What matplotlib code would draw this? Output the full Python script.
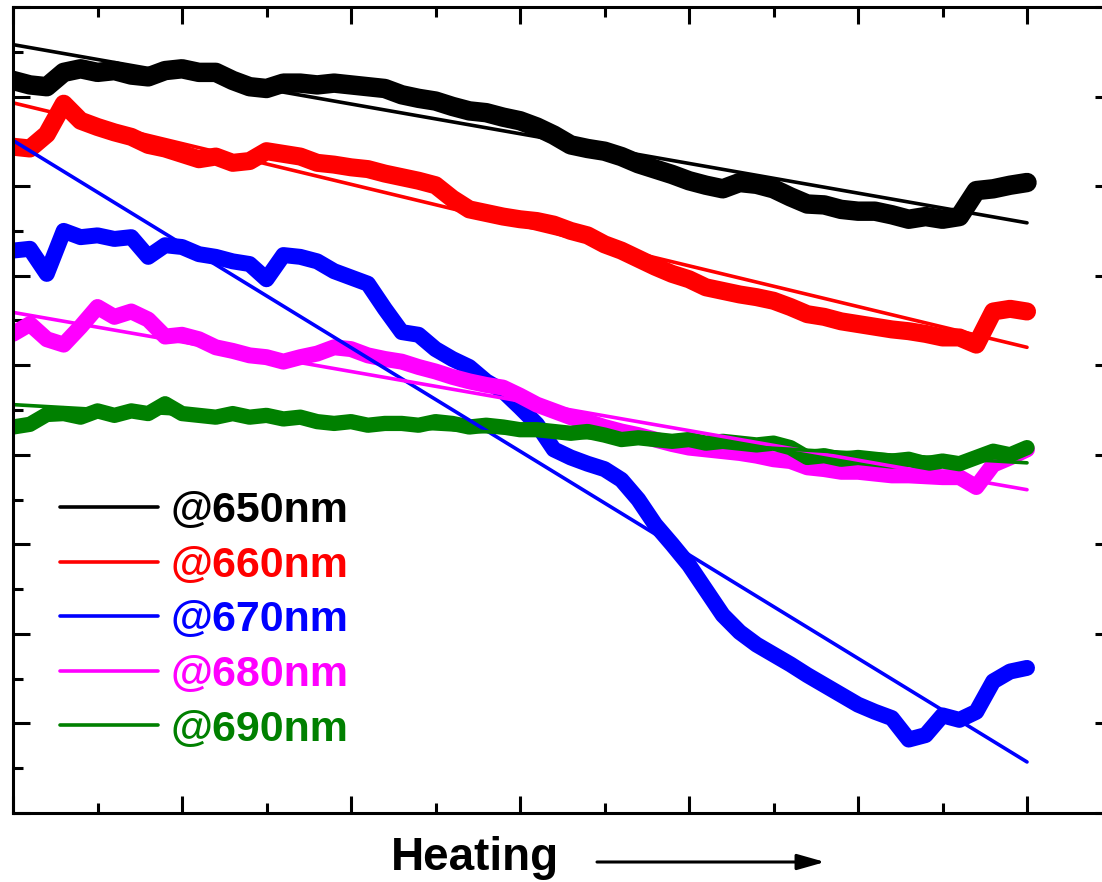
import numpy as np
import matplotlib
matplotlib.use('Agg')
import matplotlib.pyplot as plt
from matplotlib.ticker import MultipleLocator

plt.rcParams['font.family'] = ['Liberation Sans', 'DejaVu Sans']

# heating progress (arb. units), one reading every 0.1
heating = np.arange(61) / 10.0

# absorbance traces (arb. units) at each wavelength
abs_650 = [8.18, 8.13, 8.11, 8.27, 8.31, 8.27, 8.29, 8.24, 8.22, 8.29,
           8.31, 8.27, 8.27, 8.18, 8.11, 8.09, 8.15, 8.15, 8.13, 8.15,
           8.13, 8.11, 8.09, 8.02, 7.98, 7.95, 7.89, 7.84, 7.82, 7.77,
           7.73, 7.66, 7.57, 7.46, 7.42, 7.39, 7.33, 7.25, 7.19, 7.13,
           7.06, 7.01, 6.97, 7.04, 7.02, 6.97, 6.88, 6.80, 6.79, 6.74,
           6.72, 6.72, 6.68, 6.63, 6.66, 6.63, 6.66, 6.95, 6.97, 7.01, 7.04]
abs_660 = [7.44, 7.42, 7.58, 7.92, 7.73, 7.66, 7.60, 7.55, 7.46, 7.42,
           7.36, 7.30, 7.33, 7.26, 7.28, 7.39, 7.36, 7.33, 7.26, 7.24,
           7.21, 7.19, 7.14, 7.10, 7.06, 7.01, 6.86, 6.74, 6.70, 6.66,
           6.63, 6.61, 6.57, 6.50, 6.45, 6.35, 6.28, 6.19, 6.10, 6.02,
           5.96, 5.87, 5.83, 5.79, 5.76, 5.72, 5.65, 5.57, 5.54, 5.49,
           5.46, 5.43, 5.40, 5.38, 5.35, 5.31, 5.31, 5.23, 5.60, 5.63, 5.60]
abs_670 = [6.28, 6.30, 6.02, 6.50, 6.43, 6.45, 6.41, 6.43, 6.21, 6.34,
           6.32, 6.24, 6.21, 6.16, 6.13, 5.96, 6.23, 6.21, 6.16, 6.05,
           5.98, 5.91, 5.63, 5.37, 5.34, 5.18, 5.07, 4.98, 4.82, 4.71,
           4.53, 4.34, 4.06, 3.97, 3.90, 3.84, 3.72, 3.50, 3.22, 3.00,
           2.77, 2.49, 2.21, 2.02, 1.88, 1.77, 1.66, 1.54, 1.43, 1.32,
           1.21, 1.13, 1.06, 0.82, 0.87, 1.09, 1.04, 1.13, 1.47, 1.58, 1.62]
abs_680 = [5.35, 5.46, 5.29, 5.23, 5.43, 5.65, 5.54, 5.60, 5.51, 5.32,
           5.34, 5.29, 5.20, 5.16, 5.11, 5.09, 5.04, 5.09, 5.13, 5.20,
           5.18, 5.11, 5.07, 5.04, 4.98, 4.93, 4.87, 4.82, 4.78, 4.75,
           4.66, 4.56, 4.49, 4.42, 4.37, 4.31, 4.26, 4.22, 4.17, 4.12,
           4.08, 4.06, 4.04, 4.02, 3.99, 3.95, 3.93, 3.86, 3.84, 3.81,
           3.81, 3.79, 3.77, 3.77, 3.76, 3.75, 3.75, 3.64, 3.89, 3.97, 4.06]
abs_690 = [4.31, 4.34, 4.45, 4.46, 4.42, 4.49, 4.44, 4.49, 4.46, 4.57,
           4.46, 4.44, 4.42, 4.46, 4.42, 4.44, 4.40, 4.42, 4.37, 4.35,
           4.37, 4.33, 4.35, 4.35, 4.33, 4.37, 4.35, 4.31, 4.33, 4.31,
           4.28, 4.28, 4.26, 4.24, 4.26, 4.22, 4.17, 4.19, 4.17, 4.15,
           4.17, 4.13, 4.15, 4.13, 4.11, 4.13, 4.08, 3.97, 3.99, 3.95,
           3.97, 3.95, 3.93, 3.95, 3.90, 3.93, 3.90, 3.97, 4.04, 4.00, 4.08]

# linear fits: value at start and end of heating
fit_x = [0.0, 6.0]
fit_650 = [8.58, 6.59]
fit_660 = [7.93, 5.20]
fit_670 = [7.51, 0.57]
fit_680 = [5.59, 3.61]
fit_690 = [4.56, 3.91]

labels = ['@650nm', '@660nm', '@670nm', '@680nm', '@690nm']
colors = ['black', '#ff0000', '#0000ff', '#ff00ff', '#008000']
traces = [abs_650, abs_660, abs_670, abs_680, abs_690]
fits = [fit_650, fit_660, fit_670, fit_680, fit_690]
widths = [14, 13, 11.5, 11.5, 11]

fig = plt.figure(figsize=(11.02, 8.82), dpi=100)
ax = fig.add_axes([13 / 1102, 69 / 882, 1098.5 / 1102, 806 / 882])

for y, c, w in zip(traces, colors, widths):
    ax.plot(heating, y, color=c, lw=w, solid_joinstyle='round',
            solid_capstyle='round')

handles = []
for f, c, lab in zip(fits, colors, labels):
    h, = ax.plot(fit_x, f, color=c, lw=2.6, label=lab, solid_capstyle='round')
    handles.append(h)

ax.set_xlim(0, 6.5)
ax.set_ylim(0, 9)
ax.xaxis.set_major_locator(MultipleLocator(1))
ax.xaxis.set_minor_locator(MultipleLocator(0.5))
ax.yaxis.set_major_locator(MultipleLocator(1))
ax.yaxis.set_minor_locator(MultipleLocator(0.5))
ax.tick_params(which='both', direction='in', top=True, right=True,
               labelbottom=False, labelleft=False, width=2.2)
ax.tick_params(which='major', length=12.5)
ax.tick_params(which='minor', length=7)
for s in ax.spines.values():
    s.set_linewidth(2.2)

leg = ax.legend(handles=handles, loc='upper left',
                bbox_to_anchor=(60 / 1102, 391 / 882),
                bbox_transform=fig.transFigure, frameon=False,
                prop={'weight': 'bold', 'size': 31}, labelcolor='linecolor',
                handlelength=2.27, handletextpad=0.3, labelspacing=0.34,
                borderpad=0, borderaxespad=0)

ax.set_xlabel('Heating', fontsize=33, fontweight='bold')
ax.xaxis.set_label_coords(0.4208, -0.029)
ax.annotate('', xy=(825 / 1102, 20 / 882), xytext=(597 / 1102, 20 / 882),
            xycoords='figure fraction', textcoords='figure fraction',
            arrowprops=dict(arrowstyle='-|>,head_length=0.6,head_width=0.17',
                            lw=2.2, color='black', mutation_scale=28,
                            shrinkA=0, shrinkB=0))

fig.savefig('out.png', dpi=100)
